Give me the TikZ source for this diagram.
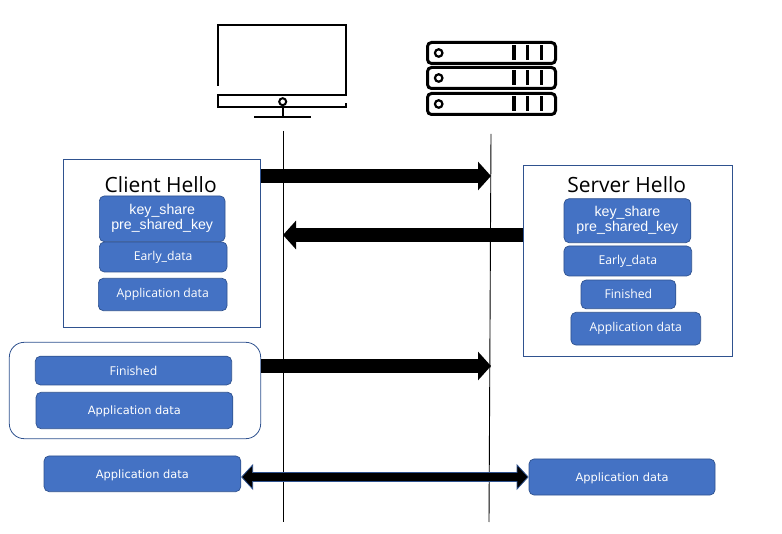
\documentclass[tikz,border=0pt]{standalone}
\usepackage{fontspec}
\setmainfont{Open Sans}
\newfontfamily\arialfont{Liberation Sans}
\newfontfamily\widefont{DejaVu Sans}
\usetikzlibrary{arrows.meta, positioning}
\definecolor{boxblue}{HTML}{4472C4}
\definecolor{edgeblue}{HTML}{2F528F}
\tikzset{
	msg/.style={draw=edgeblue, fill=boxblue, text=white, rounded corners=5pt, line width=0.7pt, inner sep=0pt, align=center},
	keys/.style={msg, font=\arialfont\fontsize{14.2}{15}\selectfont},
	small/.style={msg, font=\fontsize{12.2}{14}\selectfont},
	wide/.style={msg, text depth=0pt, font=\widefont\fontsize{11.4}{13}\selectfont},
	panel/.style={draw=edgeblue, line width=0.8pt, fill=white, inner sep=0pt},
	title/.style={font=\fontsize{21}{24}\selectfont, inner sep=0pt},
	lifeline/.style={line width=0.9pt},
	flow/.style={line width=14pt, -{Triangle[length=13pt, width=28pt]}},
	both/.style={draw=edgeblue, line width=10pt, {Triangle[length=12pt, width=26pt, fill=black, line width=0.8pt]}-{Triangle[length=12pt, width=26pt, fill=black, line width=0.8pt]}},
	icon/.style={line width=2.4pt},
	rack/.style={line width=3pt, rounded corners=4pt}
}
\begin{document}
\begin{tikzpicture}[x=1pt, y=-1pt]
	\useasboundingbox (0,0) rectangle (782,534);

	% lifelines
	\coordinate (cliTop) at (283,131);
	\coordinate (cliBot) at (283,522);
	\coordinate (srvTop) at (491,134);
	\coordinate (srvBot) at (489,522);
	\coordinate (srvHello) at (491,176);
	\coordinate (cliHello) at (283,235);
	\coordinate (srvFin) at (491,366);
	\draw[lifeline] (cliTop) -- (cliBot);
	\draw[lifeline] (srvTop) -- (srvBot);

	% client side
	\node[panel, minimum width=197.5pt, minimum height=168pt] (chello) at (162,243.3) {};
	\node[title] (chtitle) at (160.7,185) {Client Hello};
	\node[keys, minimum width=125.7pt, minimum height=45.7pt] (ckeys) at (162.2,218.8) {key\_share\\pre\_shared\_key};
	\node[small, minimum width=127.7pt, minimum height=30pt] (cearly) at (163.2,257) {Early\_data};
	\node[small, minimum width=128.7pt, minimum height=32.4pt] (capp) at (162.7,294.5) {Application data};

	\node[panel, rounded corners=15pt, minimum width=251.4pt, minimum height=96.4pt] (cfin) at (135,390.5) {};
	\node[small, minimum width=196.4pt, minimum height=28.7pt] (cfinished) at (133.5,370.6) {Finished};
	\node[wide, minimum width=196.7pt, minimum height=36.4pt] (cfinapp) at (134.4,410.5) {Application data};

	\node[wide, minimum width=196.7pt, minimum height=35.7pt] (cdata) at (142.4,473.8) {Application data};

	% server side
	\node[panel, minimum width=209.4pt, minimum height=191.4pt] (shello) at (628,261) {};
	\node[title] (shtitle) at (626.7,185) {Server Hello};
	\node[keys, minimum width=126.7pt, minimum height=44pt] (skeys) at (627.4,220.7) {key\_share\\pre\_shared\_key};
	\node[small, minimum width=127.7pt, minimum height=30pt] (searly) at (627.8,261) {Early\_data};
	\node[small, minimum width=94.7pt, minimum height=28.7pt] (sfinished) at (628.4,294.4) {Finished};
	\node[small, minimum width=129.7pt, minimum height=32.7pt] (sapp) at (635.8,328.7) {Application data};

	\node[wide, minimum width=186pt, minimum height=36pt] (sdata) at (622,477) {Application data};

	% messages
	\draw[flow] (chello.east |- srvHello) -- (srvHello);
	\draw[flow] (shello.west |- cliHello) -- (cliHello);
	\draw[flow] (cfin.east |- srvFin) -- (srvFin);
	\draw[both] (cdata.east |- sdata) -- (sdata.west);
	\draw[line width=8.6pt, shorten <=11pt, shorten >=11pt] (cdata.east |- sdata) -- (sdata.west);

	% monitor
	\draw[icon] (218,86) |- (346,25) -- (346,95) -- (218,95) -- (218,107) -- (346,107) -- (346,103);
	\node[draw, circle, line width=2pt, minimum size=7pt, inner sep=0pt] (power) at (282.7,101.7) {};
	\coordinate (baseL) at (254,116.7);
	\coordinate (baseR) at (310.7,116.7);
	\draw[line width=2pt] (baseL) -- (baseR);
	\draw[line width=2pt] (power.south) -- (power.south |- baseL);

	% server rack
	\foreach \top/\rackname in {42.5/a, 67.5/b, 93.5/c} {
		\draw[rack] (427.5,\top) rectangle (555.5,\top+21);
		\node[draw, circle, line width=2.2pt, minimum size=7.5pt, inner sep=0pt] (led\rackname) at (438.7,\top+10.5) {};
		\foreach \bar in {514,527.7,541.7}
			\draw[line width=3.2pt] (\bar,\top+3) -- (\bar,\top+18);
	}
\end{tikzpicture}
\end{document}
